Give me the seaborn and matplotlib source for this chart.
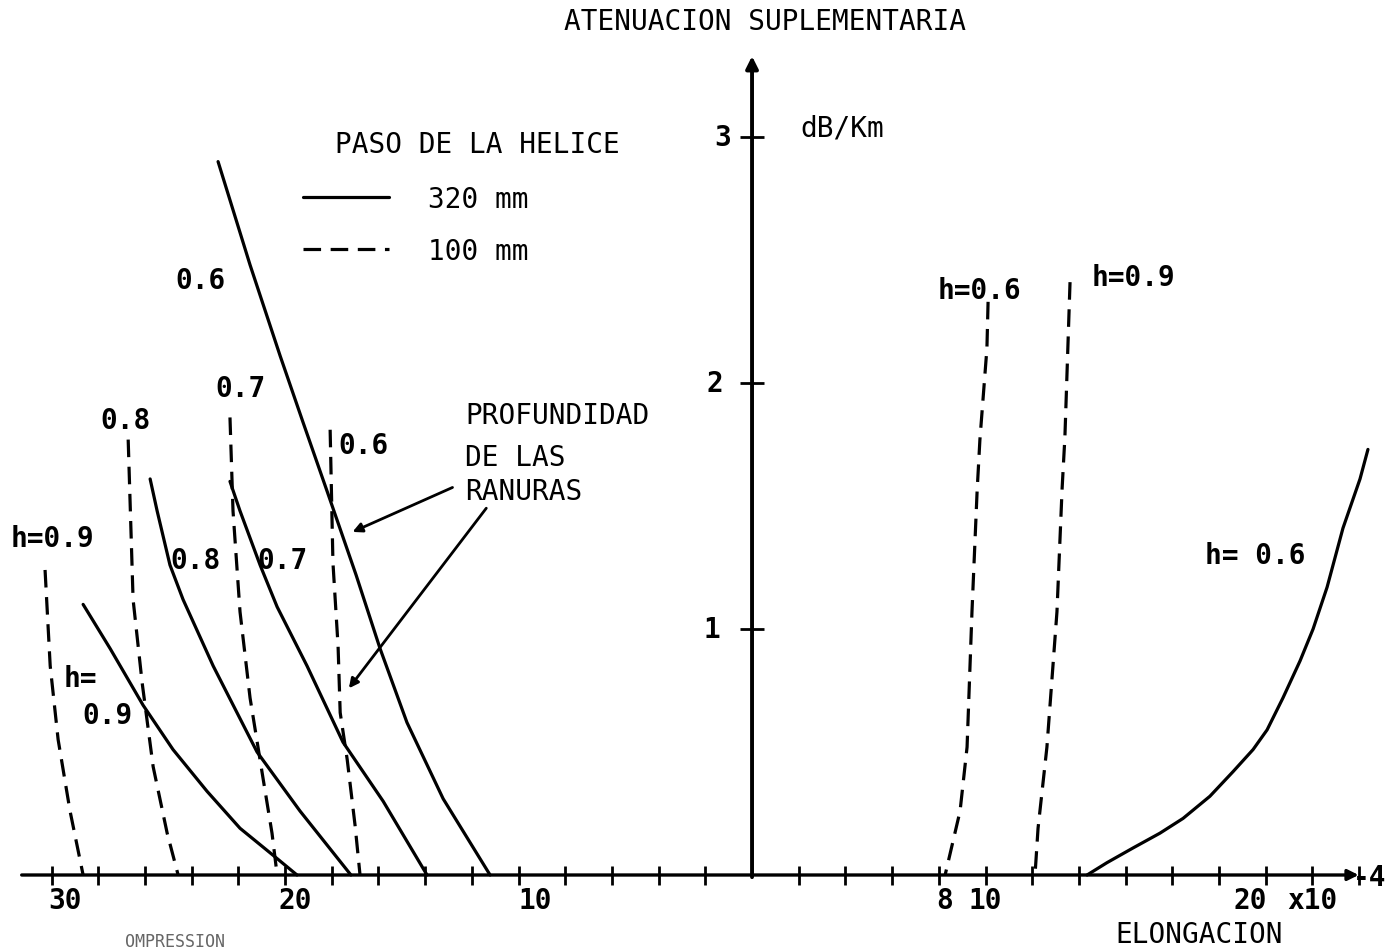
#!/usr/bin/env python3

import pandas as pd
import seaborn as sns
import matplotlib.pyplot as plt
from matplotlib.lines import Line2D

# compression side (negative values), paso 320 mm -> solid lines
c320_h06_x = [-22.87, -21.50, -20.21, -19.23, -18.20, -16.96, -15.93, -14.78, -13.23, -11.22]
c320_h06_y = [2.90, 2.48, 2.11, 1.84, 1.56, 1.22, 0.92, 0.62, 0.31, 0.0]
c320_h07_x = [-22.36, -21.93, -21.07, -20.34, -19.06, -17.52, -15.80, -13.92]
c320_h07_y = [1.60, 1.48, 1.26, 1.09, 0.85, 0.54, 0.30, 0.0]
c320_h08_x = [-25.78, -25.48, -24.93, -24.37, -23.08, -21.20, -19.36, -17.18]
c320_h08_y = [1.61, 1.48, 1.26, 1.12, 0.85, 0.50, 0.26, 0.0]
c320_h09_x = [-28.65, -27.49, -26.08, -24.80, -23.34, -21.93, -20.51, -19.49]
c320_h09_y = [1.10, 0.92, 0.69, 0.51, 0.34, 0.19, 0.08, 0.0]

# compression side, paso 100 mm -> dashed lines
c100_h06_x = [-18.07, -17.95, -17.73, -17.64, -17.34, -17.00, -16.79]
c100_h06_y = [1.81, 1.27, 0.93, 0.66, 0.47, 0.20, 0.0]
c100_h07_x = [-22.36, -22.23, -21.93, -21.50, -20.99, -20.56, -20.34]
c100_h07_y = [1.86, 1.48, 1.07, 0.72, 0.42, 0.17, 0.0]
c100_h08_x = [-26.72, -26.51, -26.12, -25.65, -25.05, -24.58]
c100_h08_y = [1.77, 1.12, 0.78, 0.44, 0.17, 0.0]
c100_h09_x = [-30.28, -30.06, -29.72, -29.21, -28.65]
c100_h09_y = [1.24, 0.85, 0.55, 0.26, 0.0]

# elongation side
e100_h06_x = [10.11, 10.06, 9.76, 9.64, 9.42, 9.21, 8.91, 8.27]
e100_h06_y = [2.33, 2.14, 1.77, 1.56, 1.07, 0.52, 0.26, 0.0]
e100_h09_x = [13.62, 13.40, 13.28, 13.06, 12.63, 12.25, 12.12]
e100_h09_y = [2.41, 1.78, 1.57, 1.07, 0.52, 0.19, 0.0]
e320_h06_x = [14.35, 15.20, 16.32, 17.47, 18.46, 19.61, 20.60, 21.46,
              22.06, 22.74, 23.47, 24.03, 24.63, 25.31, 26.04, 26.38]
e320_h06_y = [0.0, 0.05, 0.11, 0.17, 0.23, 0.32, 0.42, 0.51,
              0.59, 0.72, 0.87, 1.00, 1.17, 1.41, 1.61, 1.73]

x_ticks = list(range(-30, -1, 2)) + list(range(2, 27, 2))
y_ticks = [1, 2, 3]
paso_labels = ['320 mm', '100 mm']
DASH = (5.5, 3.0)


def build_frame():
    curves = [
        ('c320_h06', '320 mm', c320_h06_x, c320_h06_y),
        ('c320_h07', '320 mm', c320_h07_x, c320_h07_y),
        ('c320_h08', '320 mm', c320_h08_x, c320_h08_y),
        ('c320_h09', '320 mm', c320_h09_x, c320_h09_y),
        ('c100_h06', '100 mm', c100_h06_x, c100_h06_y),
        ('c100_h07', '100 mm', c100_h07_x, c100_h07_y),
        ('c100_h08', '100 mm', c100_h08_x, c100_h08_y),
        ('c100_h09', '100 mm', c100_h09_x, c100_h09_y),
        ('e100_h06', '100 mm', e100_h06_x, e100_h06_y),
        ('e100_h09', '100 mm', e100_h09_x, e100_h09_y),
        ('e320_h06', '320 mm', e320_h06_x, e320_h06_y),
    ]
    rows = []
    for name, paso, xs, ys in curves:
        for x, y in zip(xs, ys):
            rows.append([name, paso, x, y])
    return pd.DataFrame(rows, columns=['curve', 'paso', 'x', 'y'])


def main():
    data = build_frame()
    sns.set_style("white")
    plt.rcParams['font.family'] = ['DejaVu Sans Mono']
    plt.rcParams['text.color'] = 'black'

    fig = plt.figure(figsize=(13.92, 9.53), dpi=100)
    ax = fig.add_axes([0, 0, 1, 1])
    ax.set_xlim(-32.21, 27.41)
    ax.set_ylim(-0.313, 3.561)
    ax.axis('off')

    dash_map = {'320 mm': '', '100 mm': DASH}
    sns.lineplot(data=data, x='x', y='y', units='curve', estimator=None,
                 style='paso', dashes=dash_map, color='black', lw=2.3,
                 sort=False, legend=False, ax=ax)

    # hand drawn axes through the origin
    ax.annotate('', xy=(26.1, 0), xytext=(-31.4, 0),
                arrowprops=dict(arrowstyle='-|>', lw=2.4, color='black',
                                mutation_scale=16))
    ax.annotate('', xy=(0, 3.34), xytext=(0, -0.02),
                arrowprops=dict(arrowstyle='-|>', lw=2.8, color='black',
                                mutation_scale=18))
    ax.vlines(x_ticks, -0.04, 0.035, color='black', lw=2)
    ax.hlines(y_ticks, -0.5, 0.5, color='black', lw=2)

    fs = 20
    ax.text(0.56, 3.47, 'ATENUACION SUPLEMENTARIA', ha='center', va='center', fontsize=fs)
    ax.text(2.06, 3.04, 'dB/Km', ha='left', va='center', fontsize=fs)
    for v, xp in zip(y_ticks, [-1.71, -1.58, -1.28]):
        ax.text(xp, v, str(v), ha='center', va='center', fontsize=fs, fontweight='bold')

    # x tick labels (placed where the draughtsman wrote them)
    for txt, xp in [('30', -29.42), ('20', -19.57), ('10', -9.29),
                    ('8', 8.27), ('10', 9.98), ('20', 21.33)]:
        ax.text(xp, -0.10, txt, ha='center', va='center', fontsize=fs, fontweight='bold')
    ax.text(23.98, -0.10, 'x10', ha='center', va='center', fontsize=fs, fontweight='bold')
    ax.text(26.45, -0.01, '-4', ha='center', va='center', fontsize=fs, fontweight='bold')
    ax.text(19.14, -0.24, 'ELONGACION', ha='center', va='center', fontsize=fs)
    ax.text(-24.71, -0.27, 'OMPRESSION', ha='center', va='center', fontsize=12,
            color='#666666')

    # curve labels
    labels = [
        ('0.6', -23.64, 2.42, 'center'), ('0.7', -21.93, 1.98, 'center'),
        ('0.8', -26.85, 1.85, 'center'), ('0.6', -17.73, 1.75, 'left'),
        ('h=0.9', -29.98, 1.37, 'center'), ('0.8', -23.85, 1.28, 'center'),
        ('0.7', -20.13, 1.28, 'center'), ('h=', -29.50, 0.80, 'left'),
        ('0.9', -27.62, 0.65, 'center'),
        ('h=0.6', 9.76, 2.38, 'center'), ('h=0.9', 16.32, 2.43, 'center'),
        ('h= 0.6', 21.54, 1.30, 'center'),
    ]
    for txt, xp, yp, ha in labels:
        ax.text(xp, yp, txt, ha=ha, va='center', fontsize=fs, fontweight='bold')

    ax.text(-12.29, 1.87, 'PROFUNDIDAD', ha='left', va='center', fontsize=fs)
    ax.text(-12.29, 1.70, 'DE LAS', ha='left', va='center', fontsize=fs)
    ax.text(-12.29, 1.56, 'RANURAS', ha='left', va='center', fontsize=fs)
    arrow = dict(arrowstyle='-|>', lw=2, color='black', mutation_scale=14)
    ax.annotate('', xy=(-17.22, 1.39), xytext=(-12.72, 1.58), arrowprops=arrow)
    ax.annotate('', xy=(-17.34, 0.75), xytext=(-11.31, 1.50), arrowprops=arrow)

    # legend: paso de la helice
    ax.text(-11.78, 2.97, 'PASO DE LA HELICE', ha='center', va='center', fontsize=fs)
    handles = [Line2D([], [], color='black', lw=2.3),
               Line2D([], [], color='black', lw=2.3, dashes=DASH)]
    ax.legend(handles, paso_labels, loc='upper left',
              bbox_to_anchor=(303 / 1392, 1 - 186 / 953),
              frameon=False, fontsize=fs, borderpad=0, borderaxespad=0,
              handlelength=3.1, handletextpad=1.4, labelspacing=0.85)

    fig.savefig('out.png', dpi=100)


if __name__ == '__main__':
    main()
